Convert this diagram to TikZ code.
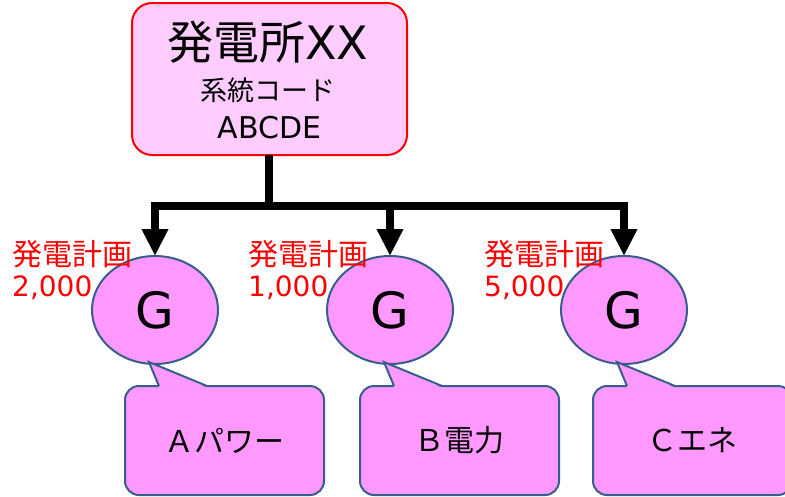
\documentclass[tikz,border=0pt]{standalone}
\usepackage{fontspec}
\setmainfont{DejaVu Sans}
\newfontfamily\cjk{Noto Sans CJK JP}
\usetikzlibrary{arrows.meta,shapes.geometric,calc}
\definecolor{toppink}{HTML}{FFCCFF}
\definecolor{gpink}{HTML}{FF99FF}
\definecolor{gblue}{HTML}{385D8A}
\begin{document}
\begin{tikzpicture}[x=1pt,y=-1pt,
  topbox/.style={draw=red,line width=2pt,fill=toppink,rounded corners=20pt,
    minimum width=275pt,minimum height=152pt,inner sep=0pt,outer sep=0pt},
  gen/.style={ellipse,draw=gblue,line width=2pt,fill=gpink,
    minimum width=126pt,minimum height=108pt,inner sep=0pt,outer sep=0pt,
    font=\fontsize{50}{50}\selectfont},
  cbox/.style={draw=gblue,line width=2pt,fill=gpink,rounded corners=14pt,
    minimum width=199pt,minimum height=109pt,inner sep=0pt,outer sep=0pt,
    font=\cjk\fontsize{30}{30}\selectfont},
  plan/.style={text=red,anchor=west,inner sep=0pt},
  conn/.style={line width=8pt},
  arr/.style={line width=8pt,-{Triangle[width=25pt,length=27pt]}}
]
\useasboundingbox (0,0) rectangle (785,496);

% top box
\node[topbox] (top) at (269.5,79) {};
\node[inner sep=0pt,font=\fontsize{46}{46}\selectfont] (title) at (268,42) {{\cjk 発電所}XX};
\node[inner sep=0pt,font=\cjk\fontsize{27}{27}\selectfont] (code) at (268,90) {系統コード};
\node[inner sep=0pt,font=\fontsize{30}{30}\selectfont] (abc) at (269.5,128) {ABCDE};

% generators
\node[gen] (g1) at (155,310) {G};
\node[gen] (g2) at (390,310) {G};
\node[gen] (g3) at (624,310) {G};

% connectors
\coordinate (bus) at (269,206);
\draw[conn] (top.south -| bus) -- (bus);
\draw[arr] (bus) -| (g1.north);
\draw[arr] (bus) -| (g2.north);
\draw[arr] (bus) -| (g3.north);

% plan labels
\foreach \n/\x/\v in {p1/12/2{,}000, p2/248/1{,}000, p3/484/5{,}000}{
  \node[plan,font=\cjk\fontsize{30}{30}\selectfont] (\n a) at (\x,254) {発電計画};
  \node[plan,font=\fontsize{28}{28}\selectfont] (\n b) at (\x,288) {\v};
}

% callouts
\foreach \n/\x/\t in {c1/224.5/Ａパワー, c2/459.5/Ｂ電力, c3/692.5/Ｃエネ}{
  \node[cbox] (\n) at (\x,440.5) {\t};
  \fill[gpink] ($(\n.north west)+(34,1.5)$) -- ($(\n.north west)+(24,-24)$) -- ($(\n.north west)+(82,1.5)$) -- cycle;
  \draw[gblue,line width=2pt,line join=miter] ($(\n.north west)+(34,0)$) -- ($(\n.north west)+(24,-24)$) -- ($(\n.north west)+(82,0)$);
}
\end{tikzpicture}
\end{document}
